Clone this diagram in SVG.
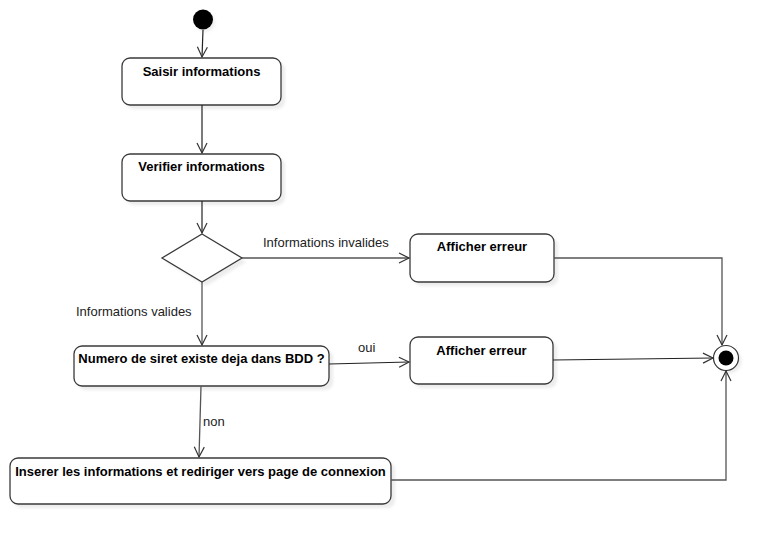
<svg xmlns="http://www.w3.org/2000/svg" width="779" height="545" viewBox="0 0 779 545">
<style>
.box{fill:#fff;stroke:#3a3a3a;stroke-width:1.3}
.sh{fill:#ececec}
.title{font-family:"Liberation Sans",Arial,sans-serif;font-size:13px;font-weight:bold;fill:#000;text-anchor:middle}
.lbl{font-family:"Liberation Sans",Arial,sans-serif;font-size:13px;fill:#222}
.conn{fill:none;stroke:#555;stroke-width:1.3}
.conn2{fill:none;stroke:#222;stroke-width:1.2}
</style>
<defs>
<marker id="arr" markerUnits="userSpaceOnUse" markerWidth="14" markerHeight="14" refX="11" refY="6" orient="auto" viewBox="0 0 14 12">
<path d="M1,1 L11,6 L1,11" fill="none" stroke="#333" stroke-width="1.2"/>
</marker>
<filter id="blur" x="-10%" y="-10%" width="130%" height="140%"><feGaussianBlur stdDeviation="1.5"/></filter>
</defs>
<rect width="779" height="545" fill="#fff"/>

<g id="start">
<circle cx="205" cy="22" r="10" fill="#eee" filter="url(#blur)"/>
<circle cx="203" cy="19.5" r="10" fill="#000"/>
</g>

<g id="saisir">
<rect class="sh" x="126" y="62" width="159" height="47" rx="8" filter="url(#blur)"/>
<rect class="box" x="122" y="58" width="159" height="47" rx="8"/>
<text class="title" x="201.5" y="76">Saisir informations</text>
</g>

<g id="verifier">
<rect class="sh" x="126" y="158" width="159" height="47" rx="8" filter="url(#blur)"/>
<rect class="box" x="122" y="154" width="159" height="47" rx="8"/>
<text class="title" x="201.5" y="171">Verifier informations</text>
</g>

<g id="decision">
<polygon points="206,238 246,262 206,286 166,262" fill="#ececec" filter="url(#blur)"/>
<polygon class="box" points="202,234 242,258 202,282 162,258"/>
</g>

<g id="afficher1">
<rect class="sh" x="414" y="238" width="144" height="48" rx="8" filter="url(#blur)"/>
<rect class="box" x="410" y="234" width="144" height="48" rx="8"/>
<text class="title" x="482" y="251">Afficher erreur</text>
</g>

<g id="numero">
<rect class="sh" x="78" y="350" width="255" height="40" rx="8" filter="url(#blur)"/>
<rect class="box" x="74" y="346" width="255" height="40" rx="8"/>
<text class="title" x="201.5" y="363">Numero de siret existe deja dans BDD ?</text>
</g>

<g id="afficher2">
<rect class="sh" x="414" y="341" width="143" height="47" rx="8" filter="url(#blur)"/>
<rect class="box" x="410" y="337" width="143" height="47" rx="8"/>
<text class="title" x="481.5" y="355">Afficher erreur</text>
</g>

<g id="inserer">
<rect class="sh" x="14" y="462" width="381" height="46" rx="8" filter="url(#blur)"/>
<rect class="box" x="10" y="458" width="381" height="46" rx="8"/>
<text class="title" x="200.5" y="476">Inserer les informations et rediriger vers page de connexion</text>
</g>

<g id="end">
<circle cx="729" cy="361" r="12.5" fill="#ececec" filter="url(#blur)"/>
<circle cx="726" cy="358" r="12.5" fill="#fff" stroke="#333" stroke-width="1.2"/>
<circle cx="726" cy="358" r="7.5" fill="#000"/>
</g>

<g id="connectors">
<path class="conn2" d="M203,30 L202,57" marker-end="url(#arr)"/>
<path class="conn2" d="M202,105 L202,153" marker-end="url(#arr)"/>
<path class="conn2" d="M202,201 L202,233" marker-end="url(#arr)"/>
<path class="conn" d="M202,282 L202,345" marker-end="url(#arr)"/>
<path class="conn" d="M242,258 L409,258" marker-end="url(#arr)"/>
<path class="conn" d="M554,258 L722,258 L722,345" marker-end="url(#arr)"/>
<path class="conn2" d="M329,364 L409,362" marker-end="url(#arr)"/>
<path class="conn2" d="M553,360 L713,358" marker-end="url(#arr)"/>
<path class="conn" d="M201,386 L199,457" marker-end="url(#arr)"/>
<path class="conn" d="M391,480 L726,480 L726,371" marker-end="url(#arr)"/>
<text class="lbl" x="263" y="247">Informations invalides</text>
<text class="lbl" x="76" y="316">Informations valides</text>
<text class="lbl" x="358" y="352">oui</text>
<text class="lbl" x="203" y="426">non</text>
</g>
</svg>
